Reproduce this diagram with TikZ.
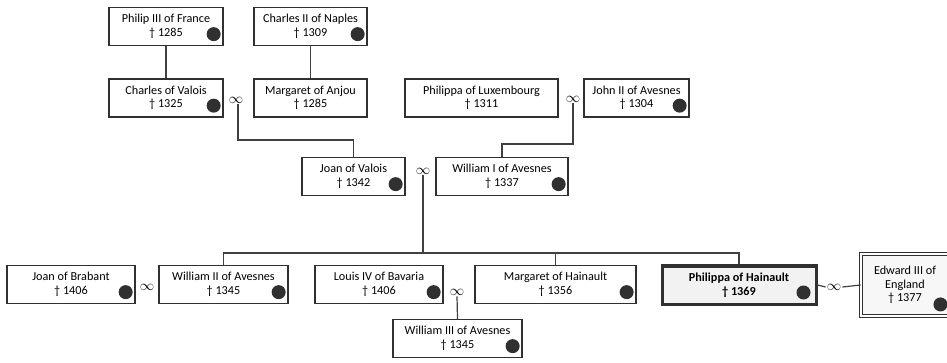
\documentclass[tikz,border=0pt]{standalone}
\usepackage{fontspec}
\setmainfont{Carlito}
\usetikzlibrary{calc}
\definecolor{ln}{HTML}{404040}
\definecolor{bd}{HTML}{303030}
\tikzset{
  x=1pt,y=-1pt,
  pbox/.style={draw=bd, line width=1.3pt, fill=white, rectangle, align=center,
    inner sep=0pt, minimum height=38pt, font=\fontsize{12.2}{13.5}\selectfont},
  conn/.style={draw=ln, line width=1.2pt},
  dotm/.style={circle, fill=bd, inner sep=0pt, minimum size=14pt},
  marr/.style={inner sep=1pt, font=\fontsize{14}{14}\selectfont},
}
\newcommand{\dotin}[1]{\node[dotm] at ($(#1.south east)+(-10,-12)$) {};}
\begin{document}
\begin{tikzpicture}
\useasboundingbox[fill=white] (0,0) rectangle (947,363);
% row 1
\node[pbox, minimum width=114pt] (philip) at (166,26.5) {Philip III of France\\† 1285};
\node[pbox, minimum width=113pt] (naples) at (310.5,26.5) {Charles II of Naples\\† 1309};
% row 2
\node[pbox, minimum width=114pt] (valois) at (166,98) {Charles of Valois\\† 1325};
\node[pbox, minimum width=113pt] (anjou) at (310.5,98) {Margaret of Anjou\\† 1285};
\node[pbox, minimum width=153pt] (luxem) at (481.5,98) {Philippa of Luxembourg\\† 1311};
\node[pbox, minimum width=105pt] (john) at (636.5,98) {John II of Avesnes\\† 1304};
% row 3
\node[pbox, minimum width=103pt] (joanv) at (353.5,176.5) {Joan of Valois\\† 1342};
\node[pbox, minimum width=132pt] (will1) at (502,176.5) {William I of Avesnes\\† 1337};
% row 4
\node[pbox, minimum width=128pt] (brabant) at (71,284.5) {Joan of Brabant\\† 1406};
\node[pbox, minimum width=129pt] (will2) at (223.5,284.5) {William II of Avesnes\\† 1345};
\node[pbox, minimum width=128pt] (louis) at (379,284.5) {Louis IV of Bavaria\\† 1406};
\node[pbox, minimum width=161pt] (marg) at (555.5,284.5) {Margaret of Hainault\\† 1356};
\node[pbox, minimum width=154pt, minimum height=38pt, line width=3pt, fill=gray!10] (philippa) at (739,285) {\bfseries Philippa of Hainault\\\bfseries † 1369};
\node[pbox, minimum width=88pt, minimum height=62pt, fill=gray!6, draw=bd, double=white, double distance=2pt, line width=0.9pt] (edward) at (905,285) {Edward III of\\England\\† 1377};
% row 5
\node[pbox, minimum width=129pt] (will3) at (457.5,338.5) {William III of Avesnes\\† 1345};
% dots
\dotin{philip}\dotin{naples}\dotin{valois}\dotin{john}\dotin{joanv}\dotin{will1}
\dotin{brabant}\dotin{will2}\dotin{louis}\dotin{marg}\dotin{will3}
\node[dotm] at ($(philippa.south east)+(-14,-13)$) {};
\node[dotm] at ($(edward.south east)+(-9,-12)$) {};
% marriage symbols
\node[marr] (m1) at (236,100) {$\infty$};
\node[marr] (m2) at (573,99) {$\infty$};
\node[marr] (m3) at (423,171) {$\infty$};
\node[marr] (m4) at (147,287) {$\infty$};
\node[marr] (m5) at (457,292) {$\infty$};
\node[marr] (m6) at (834,287) {$\infty$};
\coordinate (b1) at (238,140);
\coordinate (b2) at (573,144);
\coordinate (bus) at (423,253);
% connectors
\draw[conn] (philip.south) -- (valois.north);
\draw[conn] (naples.south) -- (anjou.north);
\draw[conn] (m1.south -| b1) -- (b1) -| (joanv.north);
\draw[conn] (m2.south) -- (b2) -| (will1.north);
\draw[conn] (m3.south) -- (bus);
\draw[conn] (will2.north) |- (philippa.north |- bus) -- (philippa.north);
\draw[conn] (marg.north |- bus) -- (marg.north);
\draw[conn] (m5.south) -- (will3.north);
\draw[conn] (philippa.east) -- (m6.west);
\draw[conn] (m6.east) -- (edward.west);
\end{tikzpicture}
\end{document}
